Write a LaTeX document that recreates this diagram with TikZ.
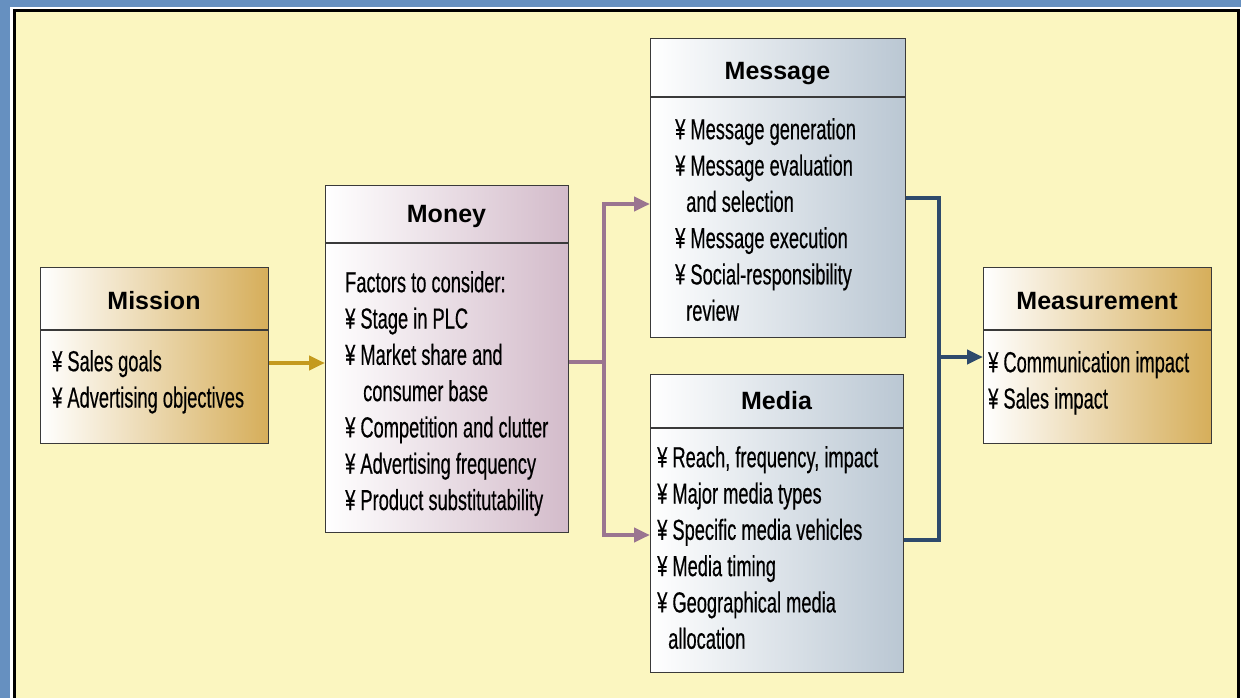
\documentclass[tikz,border=0pt]{standalone}
\usepackage{fontspec}
\setmainfont{Liberation Sans}
\newfontfamily\bodyfont{Liberation Sans}[FakeStretch=0.63,FakeBold=0.4]
\usetikzlibrary{arrows.meta}
\definecolor{bgblue}{HTML}{6690C0}
\definecolor{panel}{HTML}{FBF6C0}
\definecolor{goldR}{HTML}{D6AE5A}
\definecolor{mauveR}{HTML}{D3BBCA}
\definecolor{blueR}{HTML}{BAC7D3}
\definecolor{goldline}{HTML}{C49A1E}
\definecolor{mauveline}{HTML}{9A7590}
\definecolor{blueline}{HTML}{2E4A6C}
\definecolor{boxline}{HTML}{3A3A3A}
\tikzset{
  box/.style={draw=boxline, line width=1.3pt, anchor=north west, inner sep=0pt, shading=axis, left color=white, shading angle=90},
  goldbox/.style={box, right color=goldR},
  mauvebox/.style={box, right color=mauveR},
  bluebox/.style={box, right color=blueR},
  title/.style={font=\fontsize{25}{29}\selectfont\bfseries, text=black, inner sep=0pt},
  body/.style={font=\bodyfont\fontsize{29}{36.3}\selectfont, align=left, anchor=north west, inner sep=0pt, text=black},
  divider/.style={draw=boxline, line width=1.3pt},
  conn/.style={line width=4.3pt, line cap=butt},
  tip/.style={-{Triangle[length=16pt,width=14pt]}}
}
\begin{document}
\begin{tikzpicture}[x=1pt,y=-1pt]
\useasboundingbox (0,0) rectangle (1241,698);
\fill[bgblue] (0,0) rectangle (1241,698);
\draw[white, line width=1.5pt, fill=white] (11,8) rectangle (1241,710);
\draw[black, line width=3pt, fill=panel] (14.5,11) rectangle (1238,712);

% boxes
\node[goldbox, minimum width=228, minimum height=176] (mission) at (40,267) {};
\node[mauvebox, minimum width=243, minimum height=347] (money) at (325,185) {};
\node[bluebox, minimum width=255, minimum height=299] (message) at (650,38) {};
\node[bluebox, minimum width=253, minimum height=298] (media) at (650,374) {};
\node[goldbox, minimum width=228, minimum height=176] (measure) at (983,267) {};

% dividers
\draw[divider] (40,330) -- (268,330);
\draw[divider] (325,243) -- (568,243);
\draw[divider] (650,97) -- (905,97);
\draw[divider] (650,428) -- (903,428);
\draw[divider] (983,330) -- (1211,330);

% titles
\node[title] (missionT) at (154,301) {Mission};
\node[title] (moneyT) at (446.5,216) {Money};
\node[title] (messageT) at (777.5,74) {Message};
\node[title] (mediaT) at (776.5,401) {Media};
\node[title] (measureT) at (1097,301) {Measurement};

% bodies
\node[body] (missionB) at (52,350) {¥ Sales goals\\¥ Advertising objectives};
\node[body] (moneyB) at (345,271) {Factors to consider:\\¥ Stage in PLC\\¥ Market share and\\\hspace*{18pt}consumer base\\¥ Competition and clutter\\¥ Advertising frequency\\¥ Product substitutability};
\node[body] (messageB) at (675,118) {¥ Message generation\\¥ Message evaluation\\\hspace*{11pt}and selection\\¥ Message execution\\¥ Social-responsibility\\\hspace*{11pt}review};
\node[body] (mediaB) at (657,446) {¥ Reach, frequency, impact\\¥ Major media types\\¥ Specific media vehicles\\¥ Media timing\\¥ Geographical media\\\hspace*{11pt}allocation};
\node[body] (measureB) at (988,351) {¥ Communication impact\\¥ Sales impact};

% connectors
\coordinate (j1) at (604,362);
\coordinate (j2) at (939,357);
\draw[conn, goldline, tip] (mission.east |- 0,363) -- (money.west |- 0,363);
\draw[conn, mauveline] (money.east |- j1) -- (j1);
\draw[conn, mauveline, tip] (604,362) -- (604,204) -- (message.west |- 0,204);
\draw[conn, mauveline, tip] (604,362) -- (604,535) -- (media.west |- 0,535);
\draw[conn, blueline] (message.east |- 0,198) -- (939,198) -- (939,540) -- (media.east |- 0,540);
\draw[conn, blueline, tip] (j2) -- (measure.west |- j2);
\end{tikzpicture}
\end{document}
